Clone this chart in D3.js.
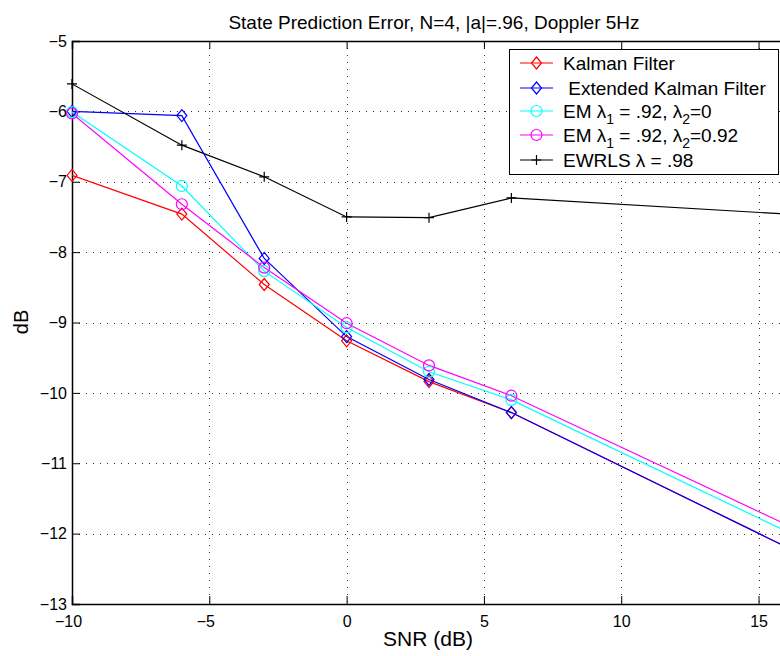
<!DOCTYPE html>
<html>
<head>
<meta charset="utf-8">
<script src="https://cdn.jsdelivr.net/npm/d3@7"></script>
<style>
  html, body { margin: 0; padding: 0; background: #fff; }
  svg { display: block; font-family: "Liberation Sans", Arial, Helvetica, sans-serif; }
</style>
</head>
<body>
<svg id="chart" width="780" height="656"></svg>
<script>
// ---- data ----
const snr = [-10, -6, -3, 0, 3, 6, 20];
const kalman = [-6.91, -7.46, -8.46, -9.26, -9.84, -10.28, -12.95];
const ekf    = [-6.00, -6.06, -8.09, -9.20, -9.81, -10.28, -12.95];
const em1    = [-6.01, -7.06, -8.27, -9.07, -9.70, -10.10, -12.71];
const em2    = [-6.03, -7.32, -8.22, -9.01, -9.61, -10.04, -12.60];
const ewrls  = [-5.61, -6.48, -6.93, -7.50, -7.51, -7.23, -7.55];
const xTicks = [-10, -5, 0, 5, 10, 15];
const yTicks = [-13, -12, -11, -10, -9, -8, -7, -6, -5];
const seriesNames = ["Kalman Filter", "\u00a0Extended Kalman Filter", "EM1", "EM2", "EWRLS"];
const title = "State Prediction Error, N=4, |a|=.96, Doppler 5Hz";
const xLabel = "SNR (dB)";
const yLabel = "dB";

const series = [
  {name: seriesNames[0], values: kalman, color: "#ff0000", marker: "diamond"},
  {name: seriesNames[1], values: ekf,    color: "#0000ff", marker: "diamond"},
  {name: seriesNames[2], values: em1,    color: "#00ffff", marker: "circle"},
  {name: seriesNames[3], values: em2,    color: "#ff00ff", marker: "circle"},
  {name: seriesNames[4], values: ewrls,  color: "#000000", marker: "plus"}
];

const svg = d3.select("#chart");
const L = 72, R = 786, T = 41, B = 604;
const x = d3.scaleLinear().domain([-10, 16]).range([L, R]);
const y = d3.scaleLinear().domain([-13, -5]).range([B, T]);
const fmt = d => (d < 0 ? "\u2212" + Math.abs(d) : String(d));

svg.append("rect").attr("x", 0).attr("y", 0).attr("width", 780).attr("height", 656).attr("fill", "#fff");

svg.append("defs").append("clipPath").attr("id", "clip")
  .append("rect").attr("x", L).attr("y", T).attr("width", R - L).attr("height", B - T);

// grid
const grid = svg.append("g").attr("stroke", "#333").attr("stroke-width", 1).attr("stroke-dasharray", "1,6");
grid.selectAll(".gx").data(xTicks.slice(1)).join("line")
  .attr("x1", d => Math.round(x(d)) + 0.5).attr("x2", d => Math.round(x(d)) + 0.5)
  .attr("y1", T).attr("y2", B);
grid.selectAll(".gy").data(yTicks.slice(1, -1)).join("line")
  .attr("y1", d => Math.round(y(d)) + 0.5).attr("y2", d => Math.round(y(d)) + 0.5)
  .attr("x1", L).attr("x2", R);

// axes (ticks inward)
const xAxisB = d3.axisBottom(x).tickValues(xTicks).tickSize(-8).tickPadding(12).tickFormat(fmt);
const gxB = svg.append("g").attr("transform", `translate(0,${B})`).call(xAxisB);
const xAxisT = d3.axisTop(x).tickValues(xTicks).tickSize(-8).tickFormat("");
const gxT = svg.append("g").attr("transform", `translate(0,${T})`).call(xAxisT);
const yAxisL = d3.axisLeft(y).tickValues(yTicks).tickSize(-8).tickPadding(5).tickFormat(fmt);
const gyL = svg.append("g").attr("transform", `translate(${L},0)`).call(yAxisL);
[gxB, gxT, gyL].forEach(g => {
  g.select(".domain").attr("stroke", "#000").attr("stroke-width", 1.5);
  g.selectAll(".tick line").attr("stroke", "#000");
  g.selectAll("text").attr("fill", "#000").attr("font-size", 16).attr("font-family", "Liberation Sans, Arial, sans-serif");
});
gxB.selectAll(".tick text").attr("dy", "0.71em").attr("dx", d => (d < 0 ? -4 : 0));

// lines
const line = d3.line().x((d, i) => x(snr[i])).y(d => y(d));
const plot = svg.append("g");
series.forEach(s => {
  plot.append("path").attr("d", line(s.values)).attr("fill", "none")
    .attr("stroke", s.color).attr("stroke-width", 1.2).attr("clip-path", "url(#clip)");
});

function drawMarker(g, type, cx, cy, color) {
  if (type === "diamond") {
    g.append("path").attr("d", `M${cx},${cy - 6}L${cx + 5},${cy}L${cx},${cy + 6}L${cx - 5},${cy}Z`)
      .attr("fill", "none").attr("stroke", color).attr("stroke-width", 1.2);
  } else if (type === "circle") {
    g.append("circle").attr("cx", cx).attr("cy", cy).attr("r", 5.5)
      .attr("fill", "none").attr("stroke", color).attr("stroke-width", 1.2);
  } else {
    g.append("path").attr("d", `M${cx - 5},${cy}H${cx + 5}M${cx},${cy - 5}V${cy + 5}`)
      .attr("stroke", color).attr("stroke-width", 1.2);
  }
}
series.forEach(s => {
  s.values.forEach((v, i) => {
    if (snr[i] <= x.domain()[1]) drawMarker(plot, s.marker, x(snr[i]), y(v), s.color);
  });
});

// legend
const lg = svg.append("g");
const lx = 509, ly = 49, lw = 269, lh = 125;
lg.append("rect").attr("x", lx + 0.5).attr("y", ly + 0.5).attr("width", lw).attr("height", lh)
  .attr("fill", "#fff").attr("stroke", "#000").attr("stroke-width", 1);
const rowY = [63, 88, 111, 135, 160];
series.forEach((s, i) => {
  const yy = rowY[i];
  lg.append("line").attr("x1", 520).attr("x2", 553).attr("y1", yy).attr("y2", yy)
    .attr("stroke", s.color).attr("stroke-width", 1.2);
  drawMarker(lg, s.marker, 536.5, yy, s.color);
  const t = lg.append("text").attr("x", 563).attr("y", yy).attr("dy", "0.35em")
    .attr("font-size", 19).attr("fill", "#000");
  if (i === 2 || i === 3) {
    t.append("tspan").text("EM \u03bb");
    t.append("tspan").text("1").attr("font-size", 14).attr("dy", 6);
    t.append("tspan").text(" = .92, \u03bb").attr("dy", -6);
    t.append("tspan").text("2").attr("font-size", 14).attr("dy", 6);
    t.append("tspan").text(i === 2 ? "=0" : "=0.92").attr("dy", -6);
  } else if (i === 4) {
    t.text("EWRLS \u03bb = .98");
  } else {
    t.text(s.name);
  }
});

// title & labels
svg.append("text").attr("x", 434).attr("y", 29).attr("text-anchor", "middle")
  .attr("font-size", 19).attr("fill", "#000").text(title);
svg.append("text").attr("x", 428).attr("y", 646).attr("text-anchor", "middle")
  .attr("font-size", 21).attr("fill", "#000").text(xLabel);
svg.append("text").attr("transform", "translate(28,322) rotate(-90)").attr("text-anchor", "middle")
  .attr("font-size", 20).attr("fill", "#000").text(yLabel);
</script>
</body>
</html>
